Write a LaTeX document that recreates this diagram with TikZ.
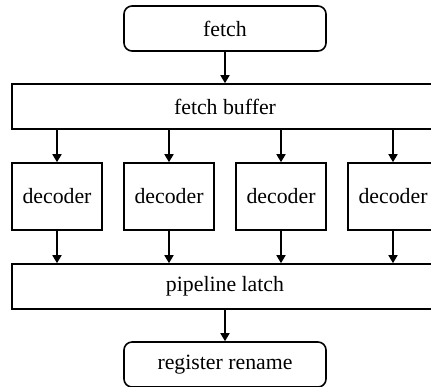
\documentclass[tikz,border=0pt]{standalone}
\usepackage{fontspec}
\setmainfont{Liberation Serif}
\usetikzlibrary{arrows.meta,positioning}

\begin{document}
\begin{tikzpicture}[x=0.5pt,y=-0.5pt,
        box/.style={draw,line width=0.8pt,inner sep=0pt,font=\fontsize{10.9}{13}\selectfont},
        stage/.style={box,rounded corners=4pt,minimum width=101pt,minimum height=22.5pt},
        wide/.style={box,minimum width=213pt,minimum height=22.5pt},
        decbox/.style={box,minimum width=45pt,minimum height=33.5pt},
        link/.style={line width=0.8pt,-{Triangle[length=4pt,width=4.5pt]}}]
        \useasboundingbox (0,0) rectangle (431,386);
        \clip (0,0) rectangle (431,386);
        % Front end
        \node[stage] (fetch) at (225,28.5) {fetch};
        \node[wide] (buffer) at (225,106.5) {fetch buffer};
        \draw[link] (fetch) -- (buffer);
        % Decoders
        \foreach \i/\x in {1/57, 2/169, 3/281, 4/393}
            \node[decbox] (dec\i) at (\x,196.5) {decoder};
        % Latch and rename
        \node[wide] (latch) at (225,286.5) {pipeline latch};
        \node[stage] (rename) at (225,364.5) {register rename};
        \foreach \i in {1,...,4} {
            \draw[link] (dec\i.north |- buffer.south) -- (dec\i.north);
            \draw[link] (dec\i.south) -- (dec\i.south |- latch.north);
        }
        \draw[link] (latch) -- (rename);
    \end{tikzpicture}
\end{document}
